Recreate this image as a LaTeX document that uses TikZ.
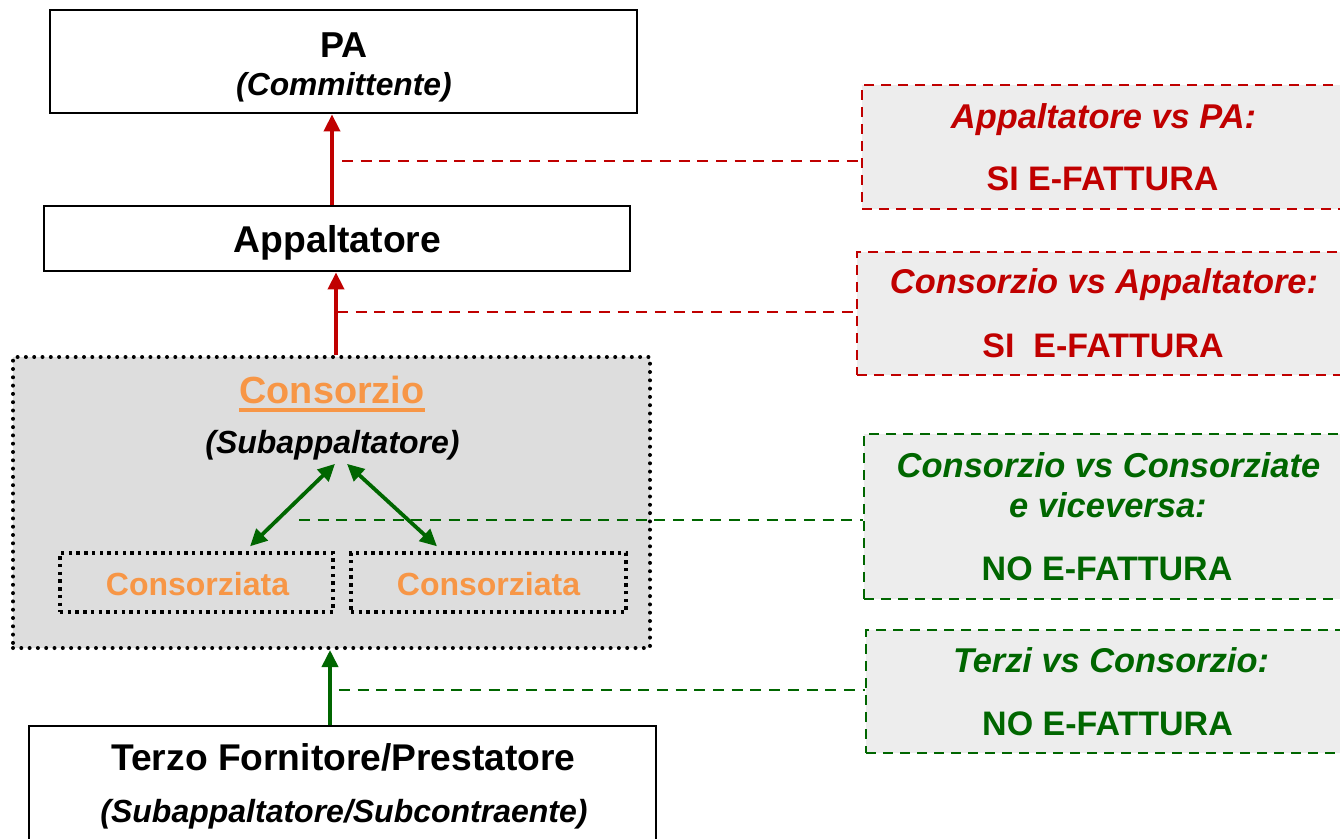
\documentclass[tikz,border=0pt]{standalone}
\usepackage{fontspec}
\setmainfont{Liberation Sans}
\usetikzlibrary{arrows.meta,calc}
\definecolor{myred}{RGB}{192,0,0}
\definecolor{mygreen}{RGB}{0,102,0}
\definecolor{myorange}{RGB}{247,150,70}
\definecolor{boxgray}{RGB}{221,221,221}
\definecolor{notegray}{RGB}{237,237,237}
\begin{document}
\begin{tikzpicture}[x=1pt,y=-1pt,
  solidbox/.style={draw=black,line width=2.8pt,fill=white,inner sep=0pt},
  dotbox/.style={draw=black,line width=4pt,line cap=round,dash pattern=on 0pt off 8.3pt,inner sep=0pt},
  sqbox/.style={draw=black,line width=3.4pt,dash pattern=on 3.4pt off 4.3pt,inner sep=0pt},
  notebox/.style={draw=#1,line width=2.6pt,dash pattern=on 10pt off 7pt,fill=notegray,inner sep=0pt},
  txt/.style={anchor=base,inner sep=0pt,font=\fontsize{#1}{#1}\selectfont\bfseries},
  itxt/.style={anchor=base,inner sep=0pt,font=\fontsize{#1}{#1}\selectfont\bfseries\itshape},
  tip/.style={-{Triangle[length=17pt,width=16pt]}},
  redarrow/.style={tip,draw=myred,fill=myred,line width=3.8pt},
  greenarrow/.style={tip,draw=mygreen,fill=mygreen,line width=3.8pt},
  dblarrow/.style={{Triangle[length=17pt,width=16pt]}-{Triangle[length=17pt,width=16pt]},draw=mygreen,fill=mygreen,line width=3.8pt},
  reddash/.style={draw=myred,line width=2.7pt,dash pattern=on 11pt off 7.7pt},
  greendash/.style={draw=mygreen,line width=2.7pt,dash pattern=on 11pt off 7.7pt}]
\useasboundingbox (0,0) rectangle (1340,838);
\clip (0,0) rectangle (1340,838);
\fill[white] (0,0) rectangle (1340,838);

% left boxes
\node[solidbox,minimum width=587pt,minimum height=103pt] (pa) at (343.5,61.5) {};
\node[solidbox,minimum width=586pt,minimum height=65pt] (app) at (337,238.5) {};
\node[dotbox,fill=boxgray,minimum width=637pt,minimum height=291pt] (cons) at (331.5,502.5) {};
\node[sqbox,minimum width=273pt,minimum height=59pt] (cl) at (196.5,582.5) {};
\node[sqbox,minimum width=275pt,minimum height=59pt] (cr) at (488.5,582.5) {};
\node[solidbox,minimum width=627pt,minimum height=144pt] (terzo) at (342.5,798) {};

% note boxes
\node[notebox=myred,minimum width=488pt,minimum height=124pt] (n1) at (1106,147) {};
\node[notebox=myred,minimum width=493pt,minimum height=123pt] (n2) at (1103.5,313.5) {};
\node[notebox=mygreen,minimum width=486pt,minimum height=165pt] (n3) at (1107,516.5) {};
\node[notebox=mygreen,minimum width=484pt,minimum height=123pt] (n4) at (1108,691.5) {};

% texts left
\node[txt=36] (tpa) at (344,57) {PA};
\node[itxt=31.8] (tcomm) at (344,95) {(Committente)};
\node[txt=37.3] (tapp) at (337.5,252) {Appaltatore};
\node[txt=37.8,text=myorange] (tcons) at (332,403) {Consorzio};
\draw[myorange,line width=3.2pt] (tcons.base west |- 0,410) -- (tcons.base east |- 0,410);
\node[itxt=32] (sub) at (332.5,453) {(Subappaltatore)};
\node[txt=32,text=myorange] (tcl) at (197.5,595) {Consorziata};
\node[txt=32,text=myorange] (tcr) at (488.5,595) {Consorziata};
\node[txt=37.2] (tterzo) at (343.5,770) {Terzo Fornitore/Prestatore};
\node[itxt=32] (tsubc) at (344,822) {(Subappaltatore/Subcontraente)};

% texts right
\node[itxt=34.4,text=myred] (h1) at (1103.5,128) {Appaltatore vs PA:};
\node[txt=34,text=myred] (s1) at (1102.5,190) {SI E-FATTURA};
\node[itxt=34.4,text=myred] (h2) at (1104,293) {Consorzio vs Appaltatore:};
\node[txt=34,text=myred] (s2) at (1103,357) {SI\ \ E-FATTURA};
\node[itxt=34.5,text=mygreen] (h3a) at (1108.5,477) {Consorzio vs Consorziate};
\node[itxt=34.5,text=mygreen] (h3b) at (1108,517) {e viceversa:};
\node[txt=34,text=mygreen] (s3) at (1107,580) {NO E-FATTURA};
\node[itxt=34.4,text=mygreen] (h4) at (1111,672) {Terzi vs Consorzio:};
\node[txt=34,text=mygreen] (s4) at (1107.5,735) {NO E-FATTURA};

% arrows
\coordinate (x1) at (332,0);
\coordinate (x2) at (336,0);
\coordinate (x3) at (330,0);
\draw[redarrow] (app.north -| x1) -- (pa.south -| x1);
\draw[redarrow] (cons.north -| x2) -- (app.south -| x2);
\draw[greenarrow] (terzo.north -| x3) -- (cons.south -| x3);
\draw[dblarrow] ($(sub.south)+(2.5,4)$) -- ($(cl.north)+(53.5,-5)$);
\draw[dblarrow] ($(sub.south)+(14.5,4)$) -- ($(cr.north)+(-51.5,-5)$);

% dashed links
\coordinate (d1) at (342,161);
\coordinate (d2) at (337,312);
\coordinate (d3) at (299,520);
\coordinate (d4) at (339,690);
\draw[reddash] (d1) -- (d1 -| n1.west);
\draw[reddash] (d2) -- (d2 -| n2.west);
\draw[greendash] (d3) -- (d3 -| n3.west);
\draw[greendash] (d4) -- (d4 -| n4.west);
\end{tikzpicture}
\end{document}
